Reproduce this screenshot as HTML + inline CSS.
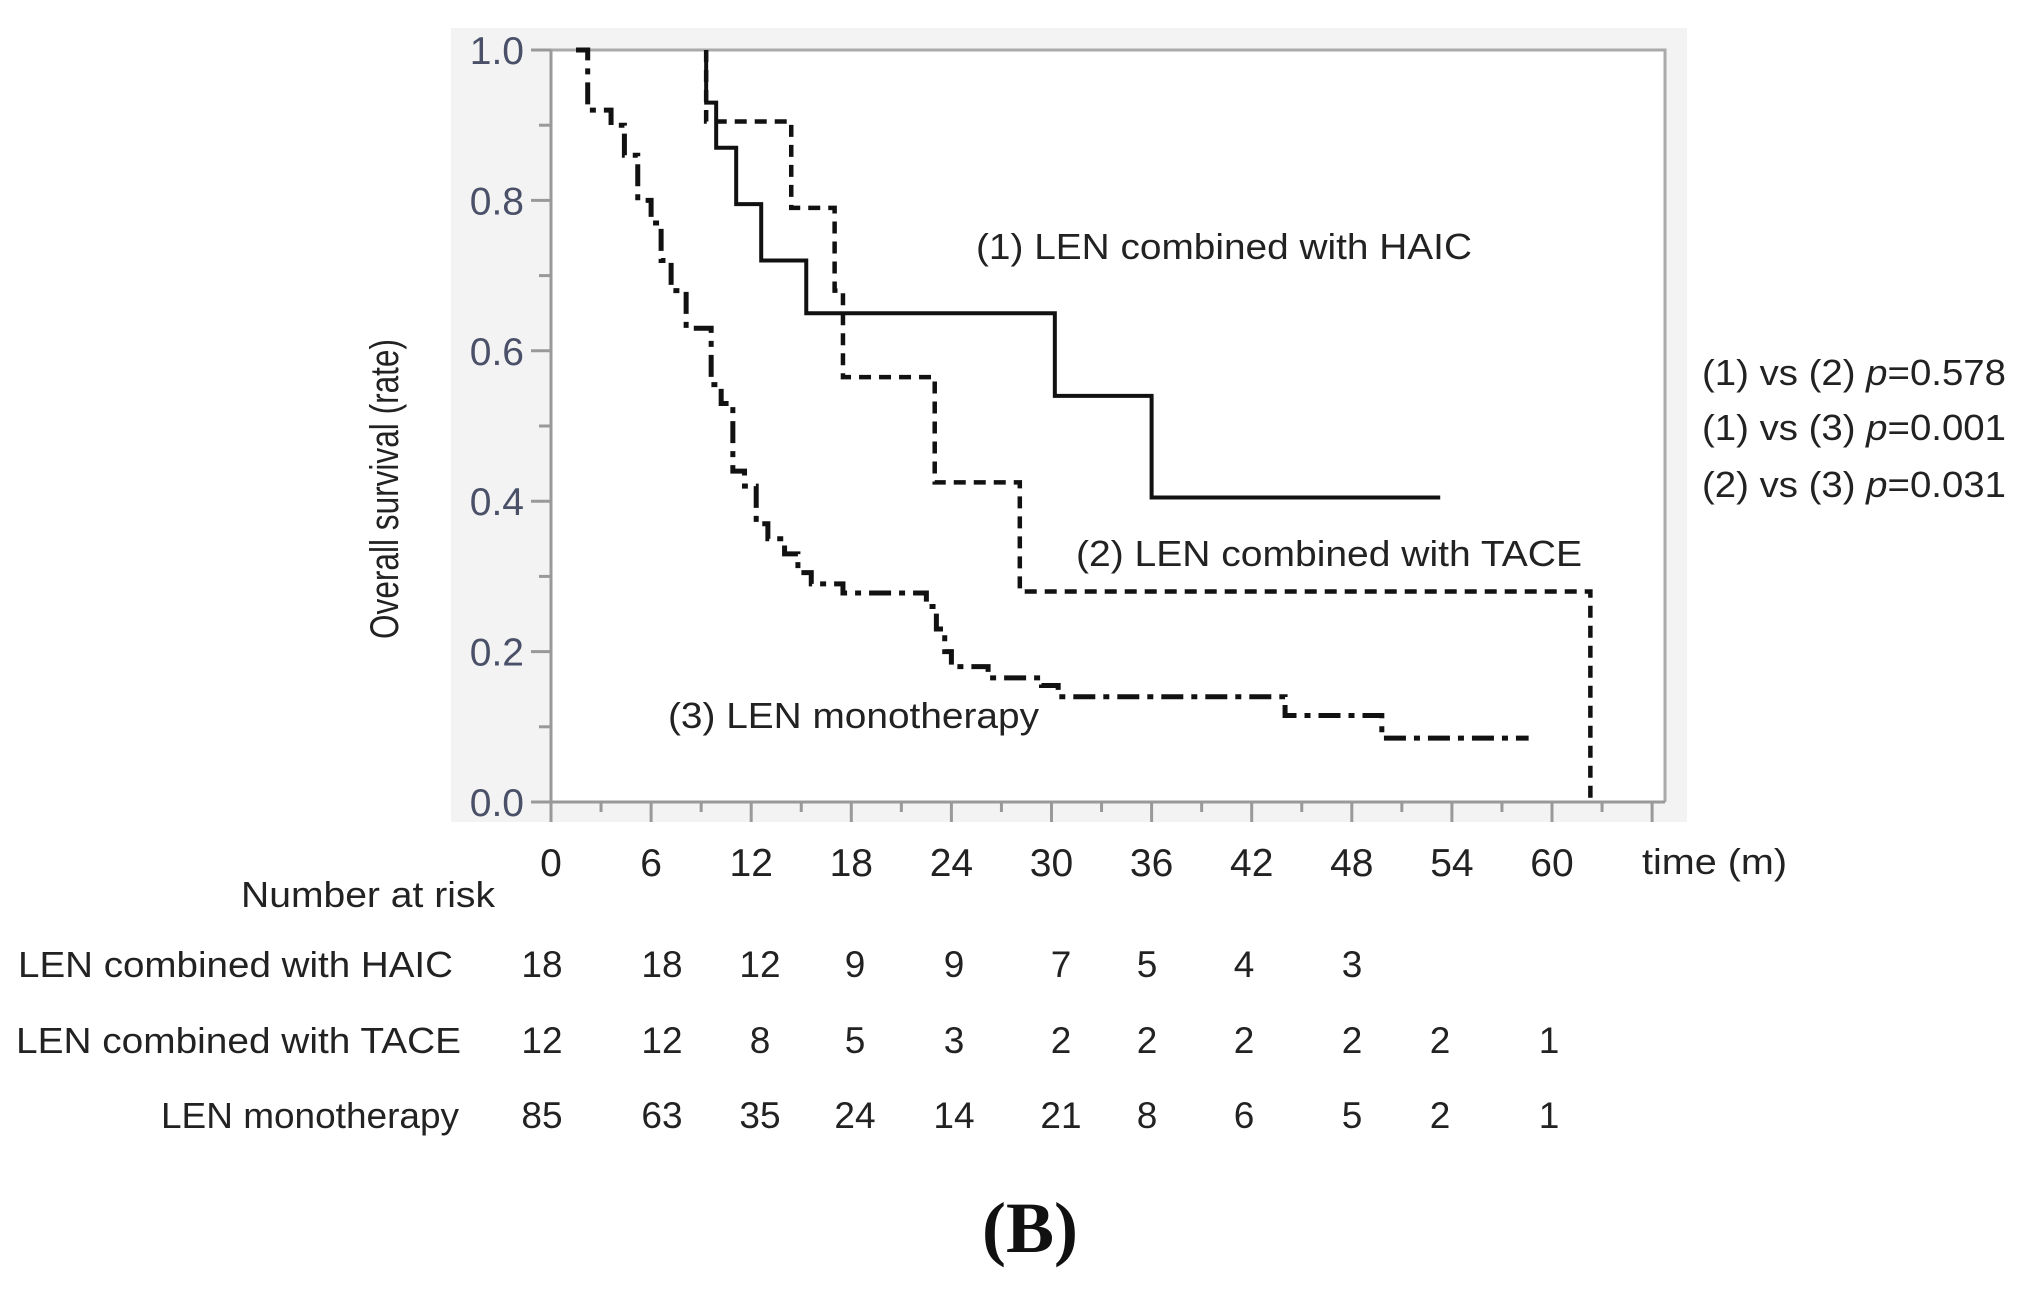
<!DOCTYPE html>
<html><head><meta charset="utf-8"><style>
html,body{margin:0;padding:0;background:#fff;}
svg{display:block;font-family:"Liberation Sans",Arial,sans-serif;}
</style></head><body>
<svg id="chart" width="2019" height="1292" viewBox="0 0 2019 1292" xmlns="http://www.w3.org/2000/svg">
<rect x="451" y="28" width="1236" height="794" fill="#f3f3f3"/>
<rect x="551" y="50" width="1114" height="752" fill="#fff"/>
<g id="axes"></g>
<g id="curves"></g>
<text transform="translate(398,489) rotate(-90)" text-anchor="middle" font-size="40" fill="#222" textLength="300" lengthAdjust="spacingAndGlyphs">Overall  survival  (rate)</text>
<text x="1642" y="874" font-size="36" fill="#222" textLength="145" lengthAdjust="spacingAndGlyphs">time (m)</text>
<text x="976" y="259" font-size="36" fill="#222" textLength="496" lengthAdjust="spacingAndGlyphs">(1) LEN combined with HAIC</text>
<text x="1076" y="566" font-size="36" fill="#222" textLength="506" lengthAdjust="spacingAndGlyphs">(2) LEN combined with TACE</text>
<text x="668" y="728" font-size="36" fill="#222" textLength="371" lengthAdjust="spacingAndGlyphs">(3) LEN monotherapy</text>
<text x="1702" y="385" font-size="36" fill="#222" textLength="304" lengthAdjust="spacingAndGlyphs">(1) vs (2) <tspan font-style="italic">p</tspan>=0.578</text>
<text x="1702" y="440" font-size="36" fill="#222" textLength="304" lengthAdjust="spacingAndGlyphs">(1) vs (3) <tspan font-style="italic">p</tspan>=0.001</text>
<text x="1702" y="497" font-size="36" fill="#222" textLength="304" lengthAdjust="spacingAndGlyphs">(2) vs (3) <tspan font-style="italic">p</tspan>=0.031</text>
<text x="495" y="907" text-anchor="end" font-size="36" fill="#222" textLength="254" lengthAdjust="spacingAndGlyphs">Number at risk</text>
<g id="risk"></g>
<text x="1030" y="1252" text-anchor="middle" font-size="72" font-weight="bold" font-family="Liberation Serif,serif" fill="#111">(B)</text>
</svg>
<script>
const xTicks=[0,6,12,18,24,30,36,42,48,54,60];
const yTicks=[0,0.2,0.4,0.6,0.8,1.0];
const haicT=[9.3,9.3,9.9,11.1,12.6,15.3,30.2,36.0,53.3];
const haicS=[1.0,0.93,0.87,0.795,0.72,0.65,0.54,0.405,0.405];
const taceT=[9.3,9.3,14.4,17.0,17.5,23.0,28.1,62.3];
const taceS=[1.0,0.905,0.79,0.68,0.565,0.425,0.28,0.0];
const monoT=[1.5,2.2,3.6,4.4,5.2,6.0,6.6,7.2,8.1,9.6,10.2,10.9,11.6,12.3,13.0,14.0,14.8,15.6,17.5,22.5,23.1,23.6,24.0,26.2,29.4,30.4,44.0,49.8,58.6];
const monoS=[1.0,0.92,0.9,0.86,0.8,0.77,0.72,0.68,0.63,0.555,0.53,0.44,0.42,0.37,0.35,0.33,0.305,0.29,0.278,0.26,0.23,0.2,0.18,0.165,0.155,0.14,0.115,0.085,0.085];
const riskRows=["LEN combined with HAIC","LEN combined with TACE","LEN monotherapy"];
const riskHaic=[18,18,12,9,9,7,5,4,3];
const riskTace=[12,12,8,5,3,2,2,2,2,2,1];
const riskMono=[85,63,35,24,14,21,8,6,5,2,1];
const riskX=[542,662,760,855,954,1061,1147,1244,1352,1440,1549];

const NS="http://www.w3.org/2000/svg";
const X=t=>551+t*(1001/60);
const Y=s=>802-s*752;
function mk(tag,attrs,parent){const e=document.createElementNS(NS,tag);for(const k in attrs)e.setAttribute(k,attrs[k]);parent.appendChild(e);return e;}
const axes=document.getElementById('axes');
const fr=mk('path',{d:`M551,50 H1665 V802`,fill:'none',stroke:'#aaa','stroke-width':3},axes);


const ya=mk('line',{x1:551,y1:50,x2:551,y2:822,stroke:'#999','stroke-width':3},axes);


const xa=mk('line',{x1:531,y1:802,x2:1665,y2:802,stroke:'#999','stroke-width':3},axes);


for(let i=0;i<=10;i++){const s=i/10;const l=mk('line',{x1:i%2?539:531,y1:Y(s),x2:551,y2:Y(s),stroke:'#999','stroke-width':3},axes);

}
yTicks.forEach(v=>{const t=mk('text',{x:524,y:Y(v)+14,'text-anchor':'end','font-size':39,fill:'#4a5068'},axes);t.textContent=v.toFixed(1);

});
for(let m=0;m<=66;m+=3){const l=mk('line',{x1:X(m),y1:802,x2:X(m),y2:m%6?812:822,stroke:'#999','stroke-width':3},axes);

}
xTicks.forEach(v=>{const t=mk('text',{x:X(v),y:876,'text-anchor':'middle','font-size':39,fill:'#222'},axes);t.textContent=v;

});
const curves=document.getElementById('curves');
function step(T,S){let d=`M${X(T[0])},${Y(S[0])}`;for(let i=1;i<T.length;i++){d+=` H${X(T[i])} V${Y(S[i])}`;}return d;}
const c1=mk('path',{d:step(haicT,haicS),fill:'none',stroke:'#111','stroke-width':4},curves);


const c2=mk('path',{d:step(taceT,taceS),fill:'none',stroke:'#111','stroke-width':4.5,'stroke-dasharray':'12 8'},curves);


const c3=mk('path',{d:step(monoT,monoS),fill:'none',stroke:'#111','stroke-width':5,'stroke-dasharray':'22 8 6 8'},curves);


const risk=document.getElementById('risk');
const rowY=[977,1053,1128];const rowW=[435,445,298];const rowX=[453,461,459];
[riskHaic,riskTace,riskMono].forEach((arr,r)=>{
 const lb=mk('text',{x:rowX[r],y:rowY[r],'text-anchor':'end','font-size':36,fill:'#222',textLength:rowW[r],lengthAdjust:'spacingAndGlyphs'},risk);lb.textContent=riskRows[r];
 
 
 arr.forEach((v,i)=>{const t=mk('text',{x:riskX[i],y:rowY[r],'text-anchor':'middle','font-size':37,fill:'#222'},risk);t.textContent=v;
 
 });
});
</script>
</body></html>
